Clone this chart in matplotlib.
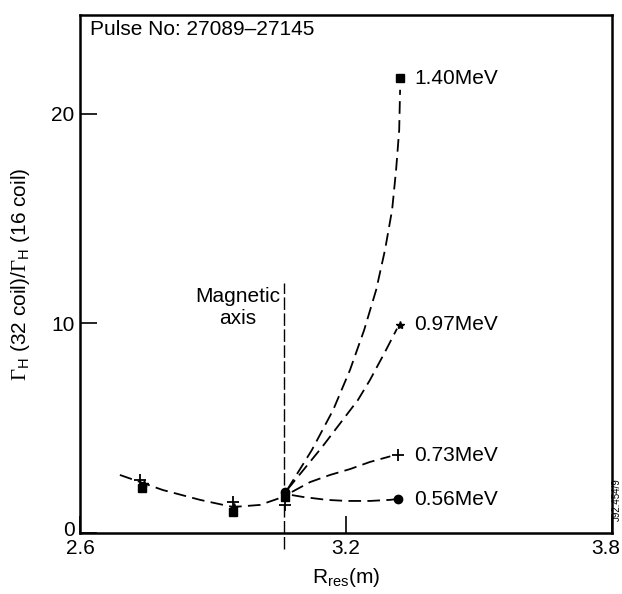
import matplotlib
matplotlib.use("Agg")
import matplotlib.pyplot as plt
import matplotlib.transforms as mtransforms

plt.rcParams['font.family'] = ['Liberation Sans', 'DejaVu Sans']
plt.rcParams['mathtext.fontset'] = 'custom'
plt.rcParams['mathtext.rm'] = 'Liberation Serif'
plt.rcParams['mathtext.sf'] = 'Liberation Sans'

# curve points
left_x = [2.690, 2.740, 2.787, 2.871, 2.945, 3.006, 3.051, 3.067]
left_y = [2.77, 2.40, 2.05, 1.58, 1.24, 1.34, 1.67, 1.91]

e140_x = [3.067, 3.123, 3.171, 3.209, 3.241, 3.268, 3.288, 3.304, 3.313, 3.320, 3.322]
e140_y = [2.05, 3.96, 5.87, 7.78, 9.69, 11.60, 13.51, 15.42, 17.33, 19.24, 21.15]

e097_x = [3.067, 3.146, 3.227, 3.254, 3.288, 3.315]
e097_y = [2.05, 4.10, 6.35, 7.30, 8.64, 9.75]

e073_x = [3.078, 3.119, 3.164, 3.209, 3.254, 3.300]
e073_y = [1.96, 2.43, 2.77, 3.05, 3.39, 3.66]

e056_x = [3.078, 3.103, 3.157, 3.202, 3.254, 3.299, 3.315]
e056_y = [1.81, 1.72, 1.58, 1.53, 1.53, 1.58, 1.62]

# measured points
sq_x = [2.740, 2.945, 3.062, 3.322]
sq_y = [2.15, 1.00, 1.70, 21.70]
plus_x = [2.736, 2.945, 3.062, 3.317]
plus_y = [2.55, 1.50, 1.34, 3.72]
star_x = [2.745, 2.948, 3.322]
star_y = [2.35, 1.25, 9.93]
dot_x = [3.062, 3.318]
dot_y = [1.96, 1.62]

energies = ['1.40MeV', '0.97MeV', '0.73MeV', '0.56MeV']
label_y = [21.7, 9.93, 3.72, 1.62]

axis_x = 3.060
axis_y = [-0.75, 11.95]

fig = plt.figure(figsize=(6.22, 5.94), dpi=100)
ax = fig.add_axes([80/622, 61/594, 532/622, 518/594])

dash = (0, (7, 3.5))
for xs, ys in [(left_x, left_y), (e140_x, e140_y), (e097_x, e097_y),
               (e073_x, e073_y), (e056_x, e056_y)]:
    ax.plot(xs, ys, color='black', lw=1.3, linestyle=dash)

ax.plot([axis_x, axis_x], axis_y, color='black', lw=1.0,
        linestyle=(0, (9, 2.5)), clip_on=False)

ax.plot(sq_x, sq_y, 's', color='black', ms=6, linestyle='none')
ax.plot(plus_x, plus_y, '+', color='black', ms=9, mew=1.3, linestyle='none')
ax.plot(star_x, star_y, '*', color='black', ms=6, linestyle='none')
ax.plot(dot_x, dot_y, 'o', color='black', ms=6, linestyle='none')

for lab, yy in zip(energies, label_y):
    ax.text(3.354, yy, lab, fontsize=15, va='center', ha='left')

ax.text(2.623, 24.05, 'Pulse No: 27089\u201327145', fontsize=15, va='center', ha='left')
ax.text(2.955, 10.75, 'Magnetic\naxis', fontsize=15, va='center', ha='center',
        linespacing=1.2)
fig.text(617/622, 1 - 500/594, 'J92.454/9', fontsize=7, rotation=90,
         va='center', ha='center')

ax.set_xlim(2.6, 3.8)
ax.set_ylim(0, 24.72)
ax.set_xticks([2.6, 3.2, 3.8])
ax.set_xticklabels(['2.6', '3.2', '3.8'])
ax.set_yticks([0, 10, 20])
ax.tick_params(direction='in', length=12, width=1.2, labelsize=15, pad=4)
for s in ax.spines.values():
    s.set_linewidth(1.8)

# nudge corner tick labels apart, as in the original
shift = mtransforms.ScaledTranslation(-6/100, 0, fig.dpi_scale_trans)
last = ax.get_xticklabels()[-1]
last.set_transform(last.get_transform() + shift)
up = mtransforms.ScaledTranslation(0, 5/100, fig.dpi_scale_trans)
zero = ax.get_yticklabels()[0]
zero.set_transform(zero.get_transform() + up)

ax.set_xlabel(r'R$_{\mathsf{res}}$(m)', fontsize=15, labelpad=6)
ax.set_ylabel(r'$\Gamma_{\mathsf{H}}$ (32 coil)/$\Gamma_{\mathsf{H}}$ (16 coil)',
              fontsize=15, labelpad=14)

fig.savefig('out.png', dpi=100)
